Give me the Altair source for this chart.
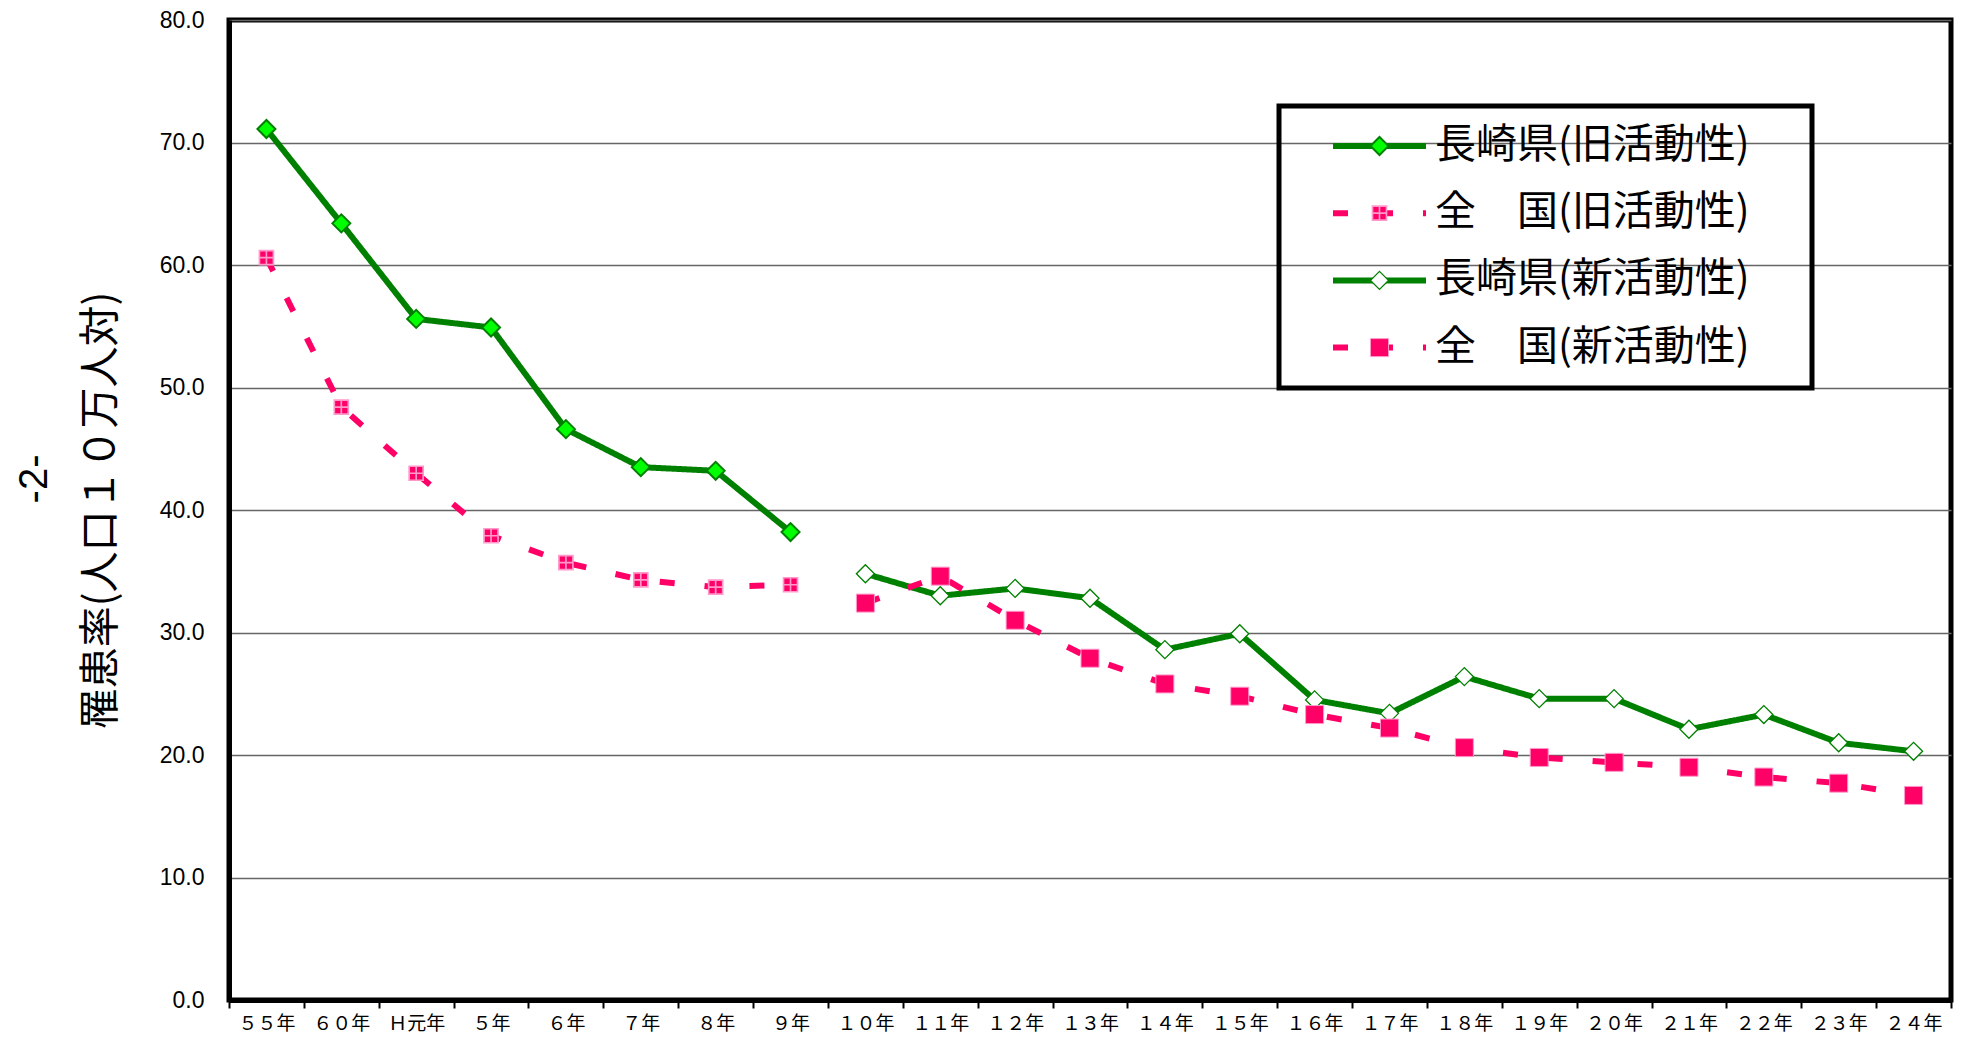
import altair as alt
import pandas as pd

# ---- data ----
categories = ["５５年", "６０年", "Ｈ元年", "５年", "６年", "７年", "８年", "９年",
              "１０年", "１１年", "１２年", "１３年", "１４年", "１５年", "１６年", "１７年",
              "１８年", "１９年", "２０年", "２１年", "２２年", "２３年", "２４年"]
old_cats = categories[:8]
new_cats = categories[8:]

nagasaki_old = [71.1, 63.4, 55.6, 54.9, 46.6, 43.5, 43.2, 38.2]
zenkoku_old = [60.6, 48.4, 43.0, 37.9, 35.7, 34.3, 33.7, 33.9]
nagasaki_new = [34.8, 33.0, 33.6, 32.8, 28.6, 29.9, 24.5, 23.4, 26.4, 24.6, 24.6, 22.1, 23.3, 21.0, 20.3]
zenkoku_new = [32.4, 34.6, 31.0, 27.9, 25.8, 24.8, 23.3, 22.2, 20.6, 19.8, 19.4, 19.0, 18.2, 17.7, 16.7]

series_names = ["長崎県(旧活動性)", "全　国(旧活動性)", "長崎県(新活動性)", "全　国(新活動性)"]
y_ticks = [0, 10, 20, 30, 40, 50, 60, 70, 80]

rows = []
for name, cats, vals in zip(series_names,
                            [old_cats, old_cats, new_cats, new_cats],
                            [nagasaki_old, zenkoku_old, nagasaki_new, zenkoku_new]):
    for c, v in zip(cats, vals):
        rows.append({"cat": c, "idx": categories.index(c), "value": v,
                     "series": name, "series_pt": name + " "})
df = pd.DataFrame(rows)
pt_domain = [s + " " for s in series_names]

GREEN = "#008000"
PINK = "#FF0066"
LPINK = "#FF99CC"
JP = "Noto Sans CJK JP"

x_enc = alt.X("cat:N", sort=categories,
              scale=alt.Scale(type="band", domain=categories, paddingInner=0, paddingOuter=0),
              axis=alt.Axis(title=None, tickBand="extent", labelAngle=0, labelFont=JP,
                            labelFontSize=19, labelColor="black", tickColor="black",
                            tickWidth=2, tickSize=8, domainColor="black", domainWidth=5,
                            labelPadding=6, grid=False))
y_enc = alt.Y("value:Q", scale=alt.Scale(domain=[0, 80]),
              axis=alt.Axis(values=y_ticks, format=".1f", grid=True, gridColor="#666666",
                            gridWidth=1.5, ticks=False, tickSize=0, domainColor="black",
                            domainWidth=5, labelFont="Liberation Sans", labelFontSize=23,
                            labelColor="black", labelPadding=25,
                            title="罹患率(人口１０万人対)", titleFont=JP, titleFontSize=41,
                            titleFontWeight="normal", titleColor="black", titlePadding=37))

LX, LY = 1050, 86
common_leg = dict(orient="none", legendX=LX, legendY=LY, labelFont=JP,
                  labelFontSize=41, labelLimit=2000, padding=19.5, rowPadding=25.2,
                  symbolOffset=60.5, labelOffset=35)

leg_line = alt.Legend(**common_leg, title="ああ", titleOrient="right", titleOpacity=0,
                      titleFontSize=20, titlePadding=3, titleFont=JP,
                      labelColor="black", symbolType="M-2.657,0H2.657",
                      symbolSize=1225, symbolStrokeWidth=6, strokeColor="black")
leg_pt = alt.Legend(**common_leg, title=None, labelOpacity=0, symbolSize=1521,
                    symbolOpacity=1, zindex=1)

dash = [15, 30]
lines = alt.Chart(df).mark_line(strokeWidth=6, strokeCap="butt").encode(
    x=x_enc, y=y_enc, order=alt.Order("idx:Q"),
    color=alt.Color("series:N", scale=alt.Scale(domain=series_names,
                                                range=[GREEN, PINK, GREEN, PINK]),
                    legend=leg_line),
    strokeDash=alt.StrokeDash("series:N", scale=alt.Scale(domain=series_names,
                                                          range=[[1, 0], dash, [1, 0], dash]),
                              legend=leg_line),
)

d = 0.4615
q = 0.359
diamond = f"M-{d},0L0,-{d}L{d},0L0,{d}Z"
square = f"M-{d},-{d}H{d}V{d}H-{d}Z"
square_cross = f"M-{q},-{q}H{q}V{q}H-{q}Z M0,-{q}V{q} M-{q},0H{q}"

points = alt.Chart(df).mark_point(filled=True, size=1521, opacity=1).encode(
    x=x_enc, y=y_enc,
    shape=alt.Shape("series_pt:N", scale=alt.Scale(domain=pt_domain,
                                                   range=[diamond, square_cross, diamond, square]),
                    legend=leg_pt),
    fill=alt.Fill("series_pt:N", scale=alt.Scale(domain=pt_domain,
                                                 range=["#00FF00", PINK, "#FFFFFF", PINK]),
                  legend=leg_pt),
    stroke=alt.Stroke("series_pt:N", scale=alt.Scale(domain=pt_domain,
                                                     range=[GREEN, LPINK, GREEN, LPINK]),
                      legend=leg_pt),
    strokeWidth=alt.StrokeWidth("series_pt:O", scale=alt.Scale(domain=pt_domain,
                                                               range=[2, 1, 2, 2]),
                                legend=leg_pt),
)

chart = alt.layer(lines, points).properties(
    width=1722, height=980,
    title=alt.Title("-2-", orient="left", anchor="middle", fontSize=40, angle=270,
                    font="Liberation Sans", fontWeight="normal", color="black",
                    offset=25, dx=31),
    autosize=alt.AutoSizeParams(type="none"),
    padding={"left": 221, "top": 12, "right": 3, "bottom": 33},
).configure_view(stroke="black", strokeWidth=5).configure_legend(strokeWidth=5)

chart.save("out.html", embed_options={"renderer": "svg", "actions": False})
